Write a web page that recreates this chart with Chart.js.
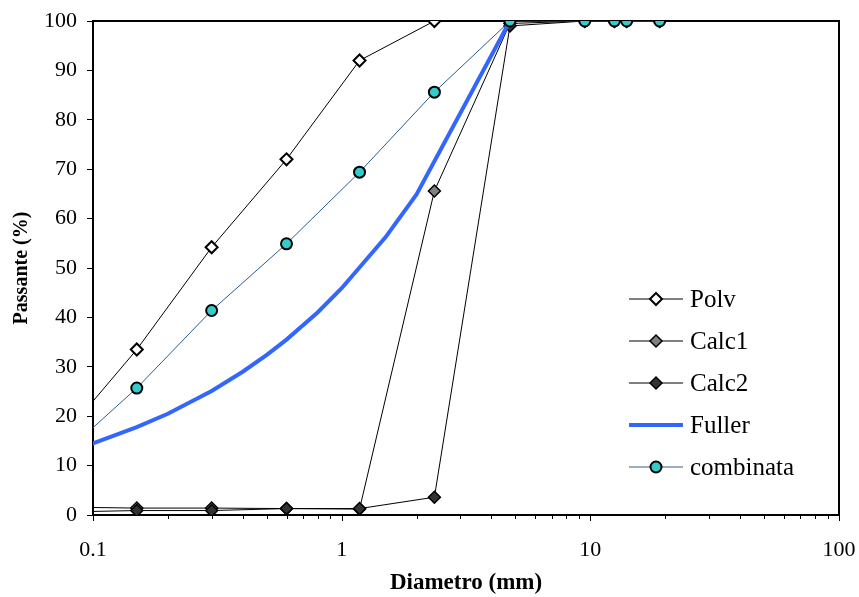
<!DOCTYPE html>
<html>
<head>
<meta charset="utf-8">
<title>Curve granulometriche</title>
<script src="https://cdn.jsdelivr.net/npm/chart.js@4/dist/chart.umd.min.js"></script>
<style>
  html, body { margin: 0; padding: 0; background: #ffffff; }
  canvas { display: block; }
</style>
</head>
<body>
<canvas id="grading" width="859" height="597"></canvas>
<script>
// Sieve openings (mm) and percent passing for each material
const sieveSizes = [0.075, 0.15, 0.3, 0.6, 1.18, 2.36, 4.75, 9.5, 12.5, 14, 19];
const polv      = [15.6, 33.5, 54.2, 72.0, 92.0, 100, 100, 100, 100, 100, 100];
const calc1     = [1.6, 1.4, 1.4, 1.3, 1.2, 65.6, 99.5, 100, 100, 100, 100];
const calc2     = [0.6, 0.9, 0.9, 1.3, 1.3, 3.6, 99.0, 100, 100, 100, 100];
const combinata = [12.0, 25.7, 41.4, 54.9, 69.4, 85.6, 100, 100, 100, 100, 100];

// Reference Fuller curve
const fullerSizes  = [0.075, 0.1, 0.15, 0.2, 0.3, 0.4, 0.5, 0.6, 0.8, 1, 1.5, 2, 4.75];
const fullerValues = [12.6, 14.5, 17.8, 20.5, 25.1, 29.0, 32.4, 35.5, 41.0, 45.9, 56.2, 64.9, 100];

// Axis ticks
const xTickValues = [0.1, 0.2, 0.3, 0.4, 0.5, 0.6, 0.7, 0.8, 0.9,
                     1, 2, 3, 4, 5, 6, 7, 8, 9,
                     10, 20, 30, 40, 50, 60, 70, 80, 90, 100];
const xTickLabels = { 0.1: '0.1', 1: '1', 10: '10', 100: '100' };
const yTickValues = [0, 10, 20, 30, 40, 50, 60, 70, 80, 90, 100];

const seriesNames = ['Polv', 'Calc1', 'Calc2', 'Fuller', 'combinata'];

const SERIF = "'Liberation Serif', 'Times New Roman', serif";
Chart.defaults.font.family = SERIF;
Chart.defaults.color = '#000000';

function toPoints(xs, ys) {
  return xs.map((x, i) => ({ x: x, y: ys[i] }));
}

// Box frame, minor/major x ticks and the in-plot legend
const decorations = {
  id: 'decorations',
  beforeDatasetsDraw(chart) {
    const { ctx, chartArea: a } = chart;
    ctx.save();
    ctx.strokeStyle = '#000';
    ctx.lineWidth = 2;
    ctx.beginPath();
    ctx.moveTo(a.left, a.top);
    ctx.lineTo(a.right, a.top);
    ctx.lineTo(a.right, a.bottom);
    ctx.stroke();

    const xs = chart.scales.x;
    ctx.lineWidth = 1;
    xs.ticks.forEach(t => {
      const px = Math.round(xs.getPixelForValue(t.value)) + 0.5;
      const len = xTickLabels[t.value] ? 6 : 4;
      ctx.beginPath();
      ctx.moveTo(px, a.bottom);
      ctx.lineTo(px, a.bottom + len);
      ctx.stroke();
    });
    ctx.restore();
  },
  afterDraw(chart) {
    const { ctx } = chart;
    const lineX0 = 629, lineX1 = 683, markX = 656, textX = 690;
    let y = 299;
    ctx.save();
    chart.data.datasets.forEach(ds => {
      ctx.beginPath();
      ctx.strokeStyle = ds.borderColor;
      ctx.lineWidth = ds.borderWidth;
      ctx.moveTo(lineX0, y);
      ctx.lineTo(lineX1, y);
      ctx.stroke();
      if (ds.pointRadius > 0) {
        const r = ds.pointRadius;
        ctx.beginPath();
        if (ds.pointStyle === 'rectRot') {
          ctx.moveTo(markX - r, y);
          ctx.lineTo(markX, y - r);
          ctx.lineTo(markX + r, y);
          ctx.lineTo(markX, y + r);
          ctx.closePath();
        } else {
          ctx.arc(markX, y, r, 0, Math.PI * 2);
        }
        ctx.fillStyle = ds.pointBackgroundColor;
        ctx.fill();
        ctx.lineWidth = ds.pointBorderWidth;
        ctx.strokeStyle = ds.pointBorderColor;
        ctx.stroke();
      }
      ctx.fillStyle = '#000';
      ctx.font = '25px ' + SERIF;
      ctx.textBaseline = 'alphabetic';
      ctx.textAlign = 'left';
      ctx.fillText(ds.label, textX, y + 8);
      y += 42;
    });
    ctx.restore();
  }
};

const markerLine = {
  type: 'line',
  tension: 0,
  borderWidth: 1,
  borderColor: '#000000',
  pointBorderColor: '#000000',
  pointHoverRadius: 6
};

new Chart(document.getElementById('grading'), {
  type: 'line',
  data: {
    datasets: [
      Object.assign({}, markerLine, {
        label: seriesNames[0],
        data: toPoints(sieveSizes, polv),
        pointStyle: 'rectRot', pointRadius: 6, pointBorderWidth: 2,
        pointBackgroundColor: '#ffffff',
        order: 4
      }),
      Object.assign({}, markerLine, {
        label: seriesNames[1],
        data: toPoints(sieveSizes, calc1),
        pointStyle: 'rectRot', pointRadius: 6, pointBorderWidth: 1.5,
        pointBackgroundColor: '#808080',
        order: 3
      }),
      Object.assign({}, markerLine, {
        label: seriesNames[2],
        data: toPoints(sieveSizes, calc2),
        pointStyle: 'rectRot', pointRadius: 6, pointBorderWidth: 1.5,
        pointBackgroundColor: '#333333',
        order: 2
      }),
      {
        type: 'line',
        label: seriesNames[3],
        data: toPoints(fullerSizes, fullerValues),
        borderColor: '#3366FF',
        borderWidth: 4,
        tension: 0,
        pointRadius: 0,
        order: 1
      },
      Object.assign({}, markerLine, {
        label: seriesNames[4],
        data: toPoints(sieveSizes, combinata),
        borderColor: '#2E5C8A',
        pointStyle: 'circle', pointRadius: 5.5, pointBorderWidth: 2,
        pointBackgroundColor: '#33CCCC',
        order: 0
      })
    ]
  },
  options: {
    responsive: false,
    animation: false,
    layout: { padding: { top: 21, right: 20, left: 0, bottom: 0 } },
    plugins: {
      legend: { display: false },
      tooltip: { enabled: false }
    },
    scales: {
      x: {
        type: 'logarithmic',
        position: 'bottom',
        min: 0.1,
        max: 100,
        afterBuildTicks: s => { s.ticks = xTickValues.map(v => ({ value: v, major: !!xTickLabels[v] })); },
        afterFit: s => { s.height = 82; s.paddingLeft = 0; s.paddingRight = 0; },
        grid: { display: false, drawTicks: true, tickLength: 6 },
        border: { display: true, color: '#000000', width: 2 },
        ticks: {
          autoSkip: false,
          maxRotation: 0,
          padding: 16,
          font: { size: 22, family: SERIF },
          color: '#000000',
          callback: v => xTickLabels[v] || ''
        },
        title: {
          display: true,
          text: 'Diametro (mm)',
          font: { size: 23, weight: 'bold', family: SERIF },
          color: '#000000',
          padding: { top: 0, bottom: 0 }
        }
      },
      y: {
        type: 'linear',
        min: 0,
        max: 100,
        afterBuildTicks: s => { s.ticks = yTickValues.map(v => ({ value: v })); },
        afterFit: s => { s.width = 93; s.paddingTop = 0; s.paddingBottom = 0; },
        grid: { drawOnChartArea: false, drawTicks: true, tickLength: 6, color: '#000000', tickColor: '#000000' },
        border: { display: true, color: '#000000', width: 2 },
        ticks: {
          padding: 10,
          font: { size: 22, family: SERIF },
          color: '#000000'
        },
        title: {
          display: true,
          text: 'Passante (%)',
          font: { size: 20, weight: 'bold', family: SERIF },
          color: '#000000',
          padding: { top: 10, bottom: 0 }
        }
      }
    }
  },
  plugins: [decorations]
});
</script>
</body>
</html>
